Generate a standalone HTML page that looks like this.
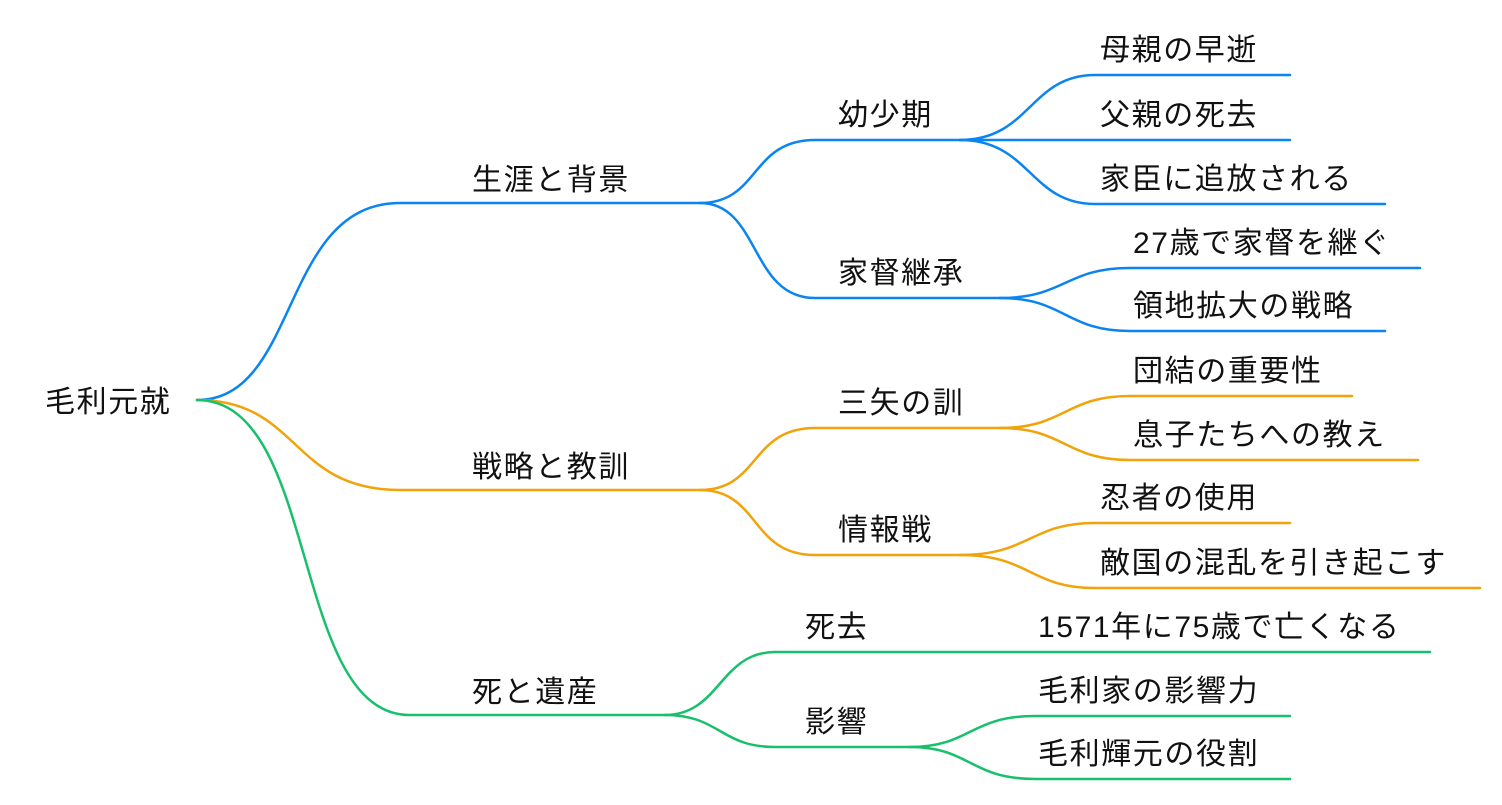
<!DOCTYPE html>
<html><head><meta charset="utf-8"><style>
html,body{margin:0;padding:0;background:#fff;}
svg text{font-family:"Liberation Sans","Noto Sans CJK JP",sans-serif;font-size:30px;letter-spacing:1.6px;fill:#111;}
</style></head><body>
<svg width="1502" height="800" viewBox="0 0 1502 800" xmlns="http://www.w3.org/2000/svg">
<g fill="none" stroke-width="2.5" stroke-linecap="round">
<g stroke="#0a84f0">
<path d="M197,400 C300,400 280,203 400,203 L700,203"/>
<path d="M700,203 C760,203 750,140 815,140 L960,140"/>
<path d="M700,203 C760,203 750,298 815,298 L1000,298"/>
<path d="M960,140 C1030,140 1030,75 1095,75 L1290,75"/>
<path d="M960,140 L1290,140"/>
<path d="M960,140 C1030,140 1030,204 1095,204 L1385,204"/>
<path d="M1000,298 C1065,298 1065,268 1130,268 L1420,268"/>
<path d="M1000,298 C1065,298 1065,331 1130,331 L1385,331"/>
</g>
<g stroke="#f0a30a">
<path d="M197,400 C300,400 290,490 400,490 L700,490"/>
<path d="M700,490 C760,490 750,428 815,428 L1000,428"/>
<path d="M700,490 C760,490 750,555 815,555 L960,555"/>
<path d="M1000,428 C1065,428 1065,396 1130,396 L1352,396"/>
<path d="M1000,428 C1065,428 1065,460 1130,460 L1418,460"/>
<path d="M960,555 C1030,555 1030,523 1095,523 L1290,523"/>
<path d="M960,555 C1030,555 1030,588 1095,588 L1480,588"/>
</g>
<g stroke="#17c06a">
<path d="M197,400 C320,400 290,715 410,715 L665,715"/>
<path d="M665,715 C720,715 720,652 775,652 L1430,652"/>
<path d="M665,715 C720,715 720,747 775,747 L910,747"/>
<path d="M910,747 C970,747 970,716 1035,716 L1290,716"/>
<path d="M910,747 C970,747 970,779 1035,779 L1290,779"/>
</g>
</g>
<text x="45" y="412">毛利元就</text>
<text x="472" y="190">生涯と背景</text>
<text x="838" y="125">幼少期</text>
<text x="838" y="283">家督継承</text>
<text x="1100" y="60">母親の早逝</text>
<text x="1100" y="125">父親の死去</text>
<text x="1100" y="189">家臣に追放される</text>
<text x="1133" y="253">27歳で家督を継ぐ</text>
<text x="1133" y="316">領地拡大の戦略</text>
<text x="472" y="477">戦略と教訓</text>
<text x="838" y="413">三矢の訓</text>
<text x="838" y="540">情報戦</text>
<text x="1133" y="381">団結の重要性</text>
<text x="1133" y="445">息子たちへの教え</text>
<text x="1100" y="508">忍者の使用</text>
<text x="1100" y="573">敵国の混乱を引き起こす</text>
<text x="472" y="702">死と遺産</text>
<text x="805" y="637">死去</text>
<text x="805" y="732">影響</text>
<text x="1038" y="637">1571年に75歳で亡くなる</text>
<text x="1038" y="701">毛利家の影響力</text>
<text x="1038" y="764">毛利輝元の役割</text>
</svg>
</body></html>
